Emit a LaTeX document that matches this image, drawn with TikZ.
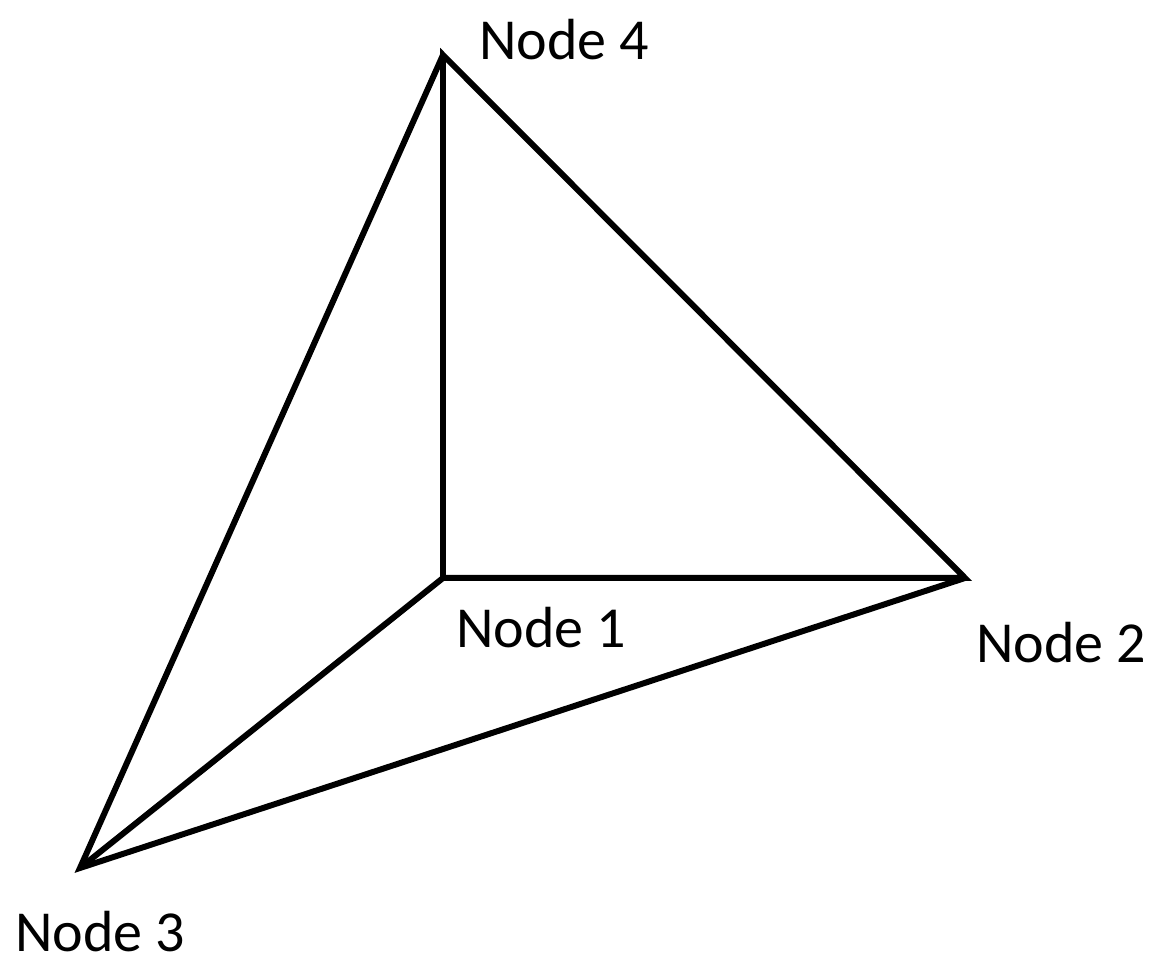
\documentclass[tikz,border=0pt]{standalone}
\usepackage{fontspec}
\setmainfont{Carlito}
\usetikzlibrary{positioning}

\begin{document}
\begin{tikzpicture}[x=0.01cm, y=-0.01cm]

			% --- STYLES ---
			\tikzstyle{edge} = [line width=1.7pt, black]
			\tikzstyle{lbl} = [font=\fontsize{16.5}{19}\selectfont, inner sep=0pt]

			\useasboundingbox (0,0) rectangle (1157,965);

			% --- CORNERS ---
			\coordinate (n4) at (443,55);
			\coordinate (n1) at (443,578);
			\coordinate (n2) at (965,578);
			\coordinate (n3) at (80,868);

			% --- LABELS ---
			\node (l4) [lbl] at (564,40) {Node 4};
			\node (l1) [lbl] at (541,628) {Node 1};
			\node (l2) [lbl] at (1061,643) {Node 2};
			\node (l3) [lbl] at (100,932) {Node 3};

			% --- EDGES ---
			\draw [edge] (n4) -- (n1) -- (n2) -- cycle;
			\draw [edge] (n4) -- (n3) -- (n2);
			\draw [edge] (n1) -- (n3);

		\end{tikzpicture}
\end{document}
